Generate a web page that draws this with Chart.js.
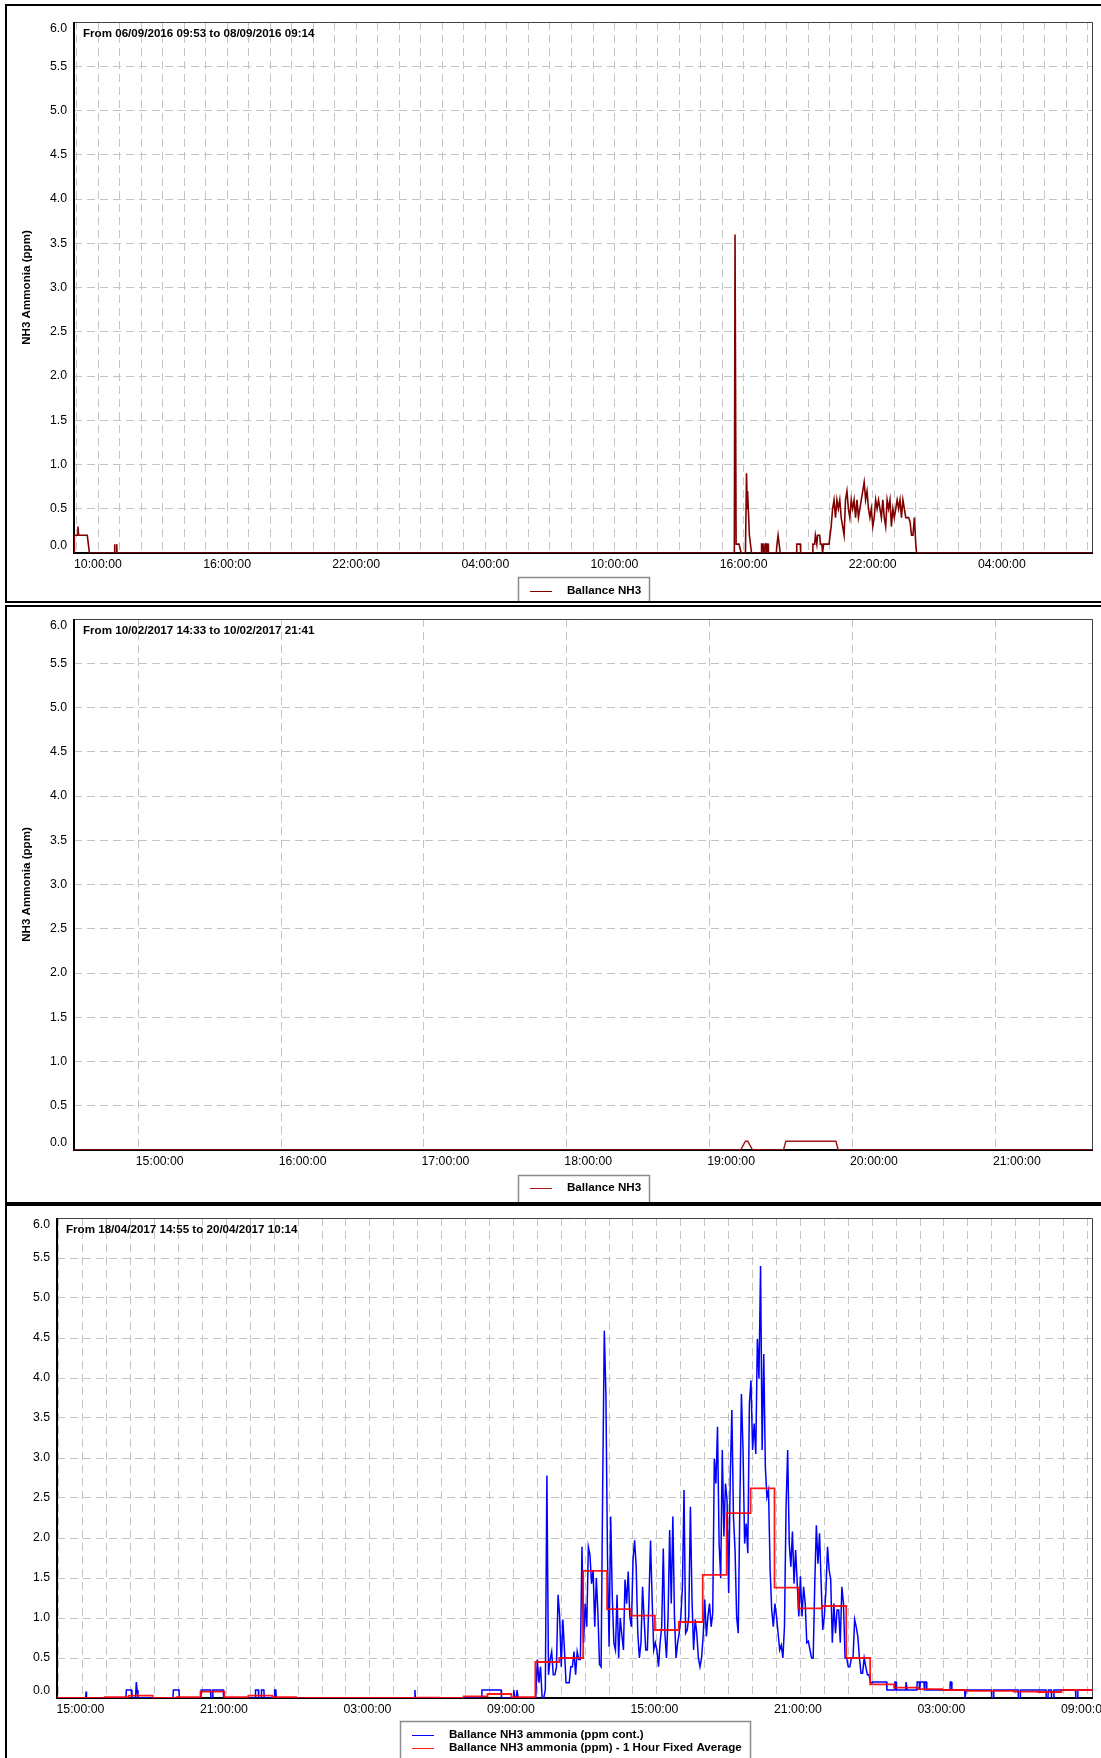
<!DOCTYPE html>
<html>
<head>
<meta charset="utf-8">
<script src="https://cdn.jsdelivr.net/npm/chart.js@4.4.1/dist/chart.umd.min.js"></script>
<style>
  body { margin: 0; background: #fff; }
  #page { position: relative; width: 1101px; height: 1758px; overflow: hidden; }
  #page canvas { position: absolute; left: 0; }
  .box { position: absolute; border: 2px solid #000; box-sizing: border-box; pointer-events: none; }
</style>
</head>
<body>
<div id="page">
  <canvas id="c1" width="1101" height="595" style="top:6px"></canvas>
  <canvas id="c2" width="1101" height="595" style="top:607px"></canvas>
  <canvas id="c3" width="1101" height="552" style="top:1206px"></canvas>
  <div class="box" style="left:5px;top:4px;width:1110px;height:599px"></div>
  <div class="box" style="left:5px;top:605px;width:1110px;height:599px"></div>
  <div class="box" style="left:5px;top:1204px;width:1110px;height:600px"></div>
</div>
<script>
// ============================ data ==============================
const yTickVals = [0, 0.5, 1, 1.5, 2, 2.5, 3, 3.5, 4, 4.5, 5, 5.5, 6];
const yTickText = ['0.0', '0.5', '1.0', '1.5', '2.0', '2.5', '3.0', '3.5', '4.0', '4.5', '5.0', '5.5', '6.0'];
const yTitle = 'NH3 Ammonia (ppm)';

// panel 1 : 06/09/2016 -> 08/09/2016
const p1Title = 'From 06/09/2016 09:53 to 08/09/2016 09:14';
const p1Day0 = 6;
const p1Range = ['06 09:53', '08 09:14'];
const p1TickHours = [10, 16, 22, 28, 34, 40, 46, 52];
const p1TickLabels = ['10:00:00', '16:00:00', '22:00:00', '04:00:00', '10:00:00', '16:00:00', '22:00:00', '04:00:00'];
const p1Legend = ['Ballance NH3'];
const p1TimesA = ['06 09:53', '06 09:54', '06 10:02', '06 10:04', '06 10:06', '06 10:30', '06 10:33', '06 10:36',
  '06 11:45', '06 11:46', '06 11:47', '06 11:51', '06 11:52', '06 11:53',
  '07 16:34', '07 16:36', '07 16:39', '07 16:47', '07 16:53',
  '07 17:05', '07 17:08', '07 17:10', '07 17:11', '07 17:13', '07 17:16', '07 17:19', '07 17:22',
  '07 17:49', '07 17:50', '07 17:54', '07 17:55', '07 17:59', '07 18:00', '07 18:03', '07 18:04', '07 18:05', '07 18:08', '07 18:09',
  '07 18:31', '07 18:33', '07 18:36', '07 18:39', '07 18:42',
  '07 19:27', '07 19:28', '07 19:38', '07 19:39',
  '07 20:11', '07 20:13', '07 20:18', '07 20:20', '07 20:24', '07 20:26', '07 20:32', '07 20:34', '07 20:38', '07 20:40', '07 20:43', '07 20:58'];
const p1ValsA = [0, 0.2, 0.2, 0.3, 0.2, 0.2, 0.1, 0,
  0, 0.1, 0, 0, 0.1, 0,
  0, 3.6, 0.1, 0.1, 0,
  0, 0.9, 0.5, 0.7, 0.5, 0.2, 0.1, 0,
  0, 0.1, 0.1, 0, 0, 0.1, 0.1, 0, 0.1, 0.1, 0,
  0, 0.1, 0.2, 0.1, 0,
  0, 0.1, 0.1, 0,
  0, 0.1, 0.1, 0.2, 0.1, 0.2, 0.2, 0.1, 0.1, 0, 0.1, 0.1];
const p1HumpStart = '07 21:00';   // logger samples, every 4 minutes
const p1HumpVals = [0.1, 0.3, 0.5, 0.6, 0.4, 0.6, 0.5, 0.6, 0.4, 0.3,
  0.2, 0.6, 0.7, 0.5, 0.4, 0.6, 0.5, 0.6, 0.4, 0.6,
  0.4, 0.5, 0.6, 0.7, 0.8, 0.6, 0.7, 0.5, 0.4, 0.5,
  0.3, 0.4, 0.6, 0.5, 0.6, 0.5, 0.4, 0.6, 0.4, 0.3,
  0.6, 0.5, 0.6, 0.3, 0.5, 0.4, 0.5, 0.6, 0.5, 0.6,
  0.4, 0.6, 0.5, 0.4, 0.4, 0.4, 0.35, 0.2, 0.2, 0.4, 0.1];
const p1TimesB = ['08 01:02', '08 09:14'];
const p1ValsB = [0, 0];

// panel 2 : 10/02/2017
const p2Title = 'From 10/02/2017 14:33 to 10/02/2017 21:41';
const p2Day0 = 10;
const p2Range = ['10 14:33', '10 21:41'];
const p2TickHours = [15, 16, 17, 18, 19, 20, 21];
const p2TickLabels = ['15:00:00', '16:00:00', '17:00:00', '18:00:00', '19:00:00', '20:00:00', '21:00:00'];
const p2Legend = ['Ballance NH3'];
const p2Times = ['10 14:33', '10 19:13', '10 19:15', '10 19:16', '10 19:18', '10 19:31', '10 19:32', '10 19:53', '10 19:54', '10 21:41'];
const p2Vals = [0, 0, 0.1, 0.1, 0, 0, 0.1, 0.1, 0, 0];

// panel 3 : 18/04/2017 -> 20/04/2017
const p3Title = 'From 18/04/2017 14:55 to 20/04/2017 10:14';
const p3Day0 = 18;
const p3Range = ['18 14:55', '20 10:14'];
const p3TickHours = [15, 21, 27, 33, 39, 45, 51, 57];
const p3TickLabels = ['15:00:00', '21:00:00', '03:00:00', '09:00:00', '15:00:00', '21:00:00', '03:00:00', '09:00:00'];
const p3Legend = ['Ballance NH3 ammonia (ppm cont.)', 'Ballance NH3 ammonia (ppm) - 1 Hour Fixed Average'];
const p3BlueTimesA = ['18 14:55', '18 16:07', '18 16:08', '18 16:09',
  '18 17:48', '18 17:49', '18 18:02', '18 18:03', '18 18:12', '18 18:14', '18 18:16', '18 18:18',
  '18 19:46', '18 19:47', '18 20:01', '18 20:02',
  '18 20:56', '18 20:57', '18 21:20', '18 21:21', '18 21:25', '18 21:26', '18 21:52', '18 21:53',
  '18 23:12', '18 23:13', '18 23:20', '18 23:21', '18 23:27', '18 23:28', '18 23:34', '18 23:35',
  '19 00:00', '19 00:01', '19 00:04', '19 00:05',
  '19 05:52', '19 05:53', '19 05:54',
  '19 08:40', '19 08:41', '19 09:29', '19 09:30',
  '19 10:00', '19 10:01', '19 10:04', '19 10:08', '19 10:09', '19 10:12'];
const p3BlueValsA = [0, 0, 0.08, 0,
  0, 0.1, 0.1, 0, 0, 0.2, 0.1, 0,
  0, 0.1, 0.1, 0,
  0, 0.1, 0.1, 0, 0, 0.1, 0.1, 0,
  0, 0.1, 0.1, 0, 0, 0.1, 0.1, 0,
  0, 0.1, 0.1, 0,
  0, 0.1, 0,
  0, 0.1, 0.1, 0,
  0, 0.1, 0, 0, 0.1, 0];
const p3BlueDenseStart = '19 10:52';  // logger samples, every 4 minutes
const p3BlueDense = [0, 0, 0.48, 0.19, 0.39, 0, 0, 0.1, 2.78, 0.29,
  0.48, 0.58, 0.29, 0.29, 0.39, 1.29, 1.02, 0.39, 0.98, 0.6,
  0.19, 0.19, 0.19, 0.39, 0.39, 0.58, 0.29, 0.58, 0.48, 0.48,
  1.89, 0.69, 1.18, 0.89, 1.89, 1.79, 1.43, 1.6, 0.89, 1.5,
  1.06, 0.42, 0.39, 2.68, 4.59, 3.8, 1.77, 0.64, 2.27, 1.27,
  0.69, 0.6, 1.29, 0.5, 1.0, 0.79, 0.6, 1.48, 1.18, 1.58,
  1.02, 0.89, 1.72, 1.97, 1.64, 0.81, 0.5, 0.69, 1.39, 0.98,
  0.6, 0.6, 1.23, 1.97, 1.23, 0.6, 0.69, 0.6, 0.39, 0.69,
  0.89, 1.87, 0.81, 0.5, 1.02, 2.1, 1.18, 2.27, 1.02, 0.5,
  0.69, 0.81, 1.02, 1.39, 2.6, 0.81, 0.85, 1.02, 2.39, 1.23,
  0.6, 0.98, 0.81, 0.5, 0.39, 0.5, 0.77, 1.23, 0.77, 1.02,
  1.18, 0.89, 1.06, 2.99, 2.68, 3.39, 1.93, 1.5, 3.1, 2.02,
  2.68, 2.47, 1.31, 2.76, 3.6, 2.27, 1.85, 1.02, 0.81, 2.39,
  3.8, 3.1, 1.93, 2.18, 1.81, 3.68, 3.97, 3.1, 3.43, 3.05,
  4.49, 3.99, 5.4, 3.1, 4.3, 2.89, 2.51, 2.6, 1.6, 1.1,
  0.89, 1.18, 1.02, 0.81, 0.6, 0.66, 0.5, 0.89, 2.39, 3.1,
  1.93, 1.64, 2.08, 1.43, 1.85, 1.43, 1.02, 1.52, 1.02, 1.39,
  1.18, 0.69, 0.71, 0.6, 0.5, 0.5, 1.43, 2.16, 1.68, 2.06,
  1.43, 0.85, 1.02, 1.35, 1.89, 1.6, 1.48, 0.69, 1.18, 0.81,
  1.1, 1.1, 0.69, 1.39, 1.18, 0.5, 0.5, 0.39, 0.39, 0.5,
  0.5, 0.98, 0.89, 0.77, 0.5, 0.31, 0.31, 0.5, 0.39, 0.29,
  0.29, 0.19, 0.19];
const p3BlueTimesB = ['20 01:01', '20 01:36', '20 01:37', '20 01:56', '20 01:57', '20 02:00', '20 02:01', '20 02:24', '20 02:25',
  '20 02:27', '20 02:28', '20 02:52', '20 02:53', '20 02:58', '20 02:59', '20 03:01', '20 03:10', '20 03:11', '20 03:12',
  '20 03:16', '20 03:17', '20 04:15', '20 04:16', '20 04:19', '20 04:20', '20 04:52', '20 04:53', '20 04:55', '20 04:56',
  '20 05:59', '20 06:00', '20 06:04', '20 06:05', '20 07:06', '20 07:07', '20 07:11', '20 07:12', '20 08:16', '20 08:17',
  '20 08:21', '20 08:22', '20 08:29', '20 08:30', '20 08:35', '20 08:36', '20 09:30', '20 09:31', '20 09:35', '20 09:36', '20 10:14'];
const p3BlueValsB = [0.2, 0.2, 0.1, 0.1, 0.2, 0.2, 0.1, 0.1, 0.2,
  0.2, 0.1, 0.1, 0.2, 0.2, 0.1, 0.2, 0.2, 0.1, 0.2,
  0.2, 0.1, 0.1, 0.2, 0.2, 0.1, 0.1, 0, 0, 0.1,
  0.1, 0, 0, 0.1, 0.1, 0, 0, 0.1, 0.1, 0,
  0, 0.1, 0.1, 0, 0, 0.1, 0.1, 0, 0, 0.1, 0.1];
const p3RedTimes = ['18 14:55', '18 15:55', '18 16:55', '18 17:55', '18 18:55', '18 19:55', '18 20:55', '18 21:55', '18 22:55', '18 23:55',
  '19 00:55', '19 01:55', '19 02:55', '19 03:55', '19 04:55', '19 05:55', '19 06:55', '19 07:55', '19 08:55', '19 09:55',
  '19 10:55', '19 11:55', '19 12:55', '19 13:55', '19 14:55', '19 15:55', '19 16:55', '19 17:55', '19 18:55', '19 19:55',
  '19 20:55', '19 21:55', '19 22:55', '19 23:55', '20 00:55', '20 01:55', '20 02:55', '20 03:55', '20 04:55', '20 05:55',
  '20 06:55', '20 07:55', '20 08:55', '20 09:55', '20 10:14'];
const p3RedVals = [0, 0, 0.01, 0.03, 0, 0.01, 0.08, 0.01, 0.03, 0.01,
  0, 0, 0, 0, 0, 0.005, 0, 0.02, 0.05, 0.01,
  0.45, 0.5, 1.59, 1.11, 1.03, 0.85, 0.95, 1.54, 2.31, 2.62,
  1.38, 1.12, 1.15, 0.5, 0.17, 0.13, 0.11, 0.1, 0.09, 0.09,
  0.08, 0.075, 0.1, 0.1, 0.1];

// ============================ helpers ==============================
const FONT = '"Liberation Sans", Arial, sans-serif';
const BOLD = 'bold 11.6px ' + FONT;
Chart.defaults.font.family = FONT;
Chart.defaults.color = '#000';

function toHours(stamp, day0) {
  const [d, hm] = stamp.split(' ');
  const [h, m] = hm.split(':').map(Number);
  return (Number(d) - day0) * 24 + h + m / 60;
}
function points(times, vals, day0) {
  return times.map((t, i) => ({x: toHours(t, day0), y: vals[i]}));
}
function samples(start, vals, day0) {
  const t0 = toHours(start, day0);
  return vals.map((v, i) => ({x: t0 + i * 4 / 60, y: v}));
}

// ============================ plugin ==============================
const panelPlugin = {
  id: 'panel',
  beforeDatasetsDraw(chart, args, o) {
    const ctx = chart.ctx, a = chart.chartArea, ys = chart.scales.y;
    ctx.save();
    // plot frame
    ctx.strokeStyle = '#404040';
    ctx.lineWidth = 1;
    ctx.beginPath();
    ctx.moveTo(a.left, a.top + 0.5); ctx.lineTo(a.right - 0.5, a.top + 0.5); ctx.lineTo(a.right - 0.5, a.bottom);
    ctx.stroke();
    ctx.strokeStyle = '#000';
    ctx.lineWidth = 2;
    ctx.beginPath();
    ctx.moveTo(a.left, a.top); ctx.lineTo(a.left, a.bottom); ctx.lineTo(a.right, a.bottom);
    ctx.stroke();
    // y tick labels, kept inside the plot height
    ctx.fillStyle = '#000';
    ctx.font = '12.3px ' + FONT;
    ctx.textAlign = 'right';
    ctx.textBaseline = 'middle';
    yTickVals.forEach((v, i) => {
      const y = Math.min(Math.max(ys.getPixelForValue(v), a.top + 7), a.bottom - 7);
      ctx.fillText(yTickText[i], a.left - 7, y);
    });
    if (o.yTitle) {
      ctx.font = BOLD;
      ctx.textAlign = 'center';
      ctx.translate(27, (a.top + a.bottom) / 2);
      ctx.rotate(-Math.PI / 2);
      ctx.fillText(o.yTitle, 0, 0);
    }
    ctx.restore();
  },
  afterDatasetsDraw(chart, args, o) {
    const ctx = chart.ctx, a = chart.chartArea;
    ctx.save();
    ctx.font = BOLD;
    ctx.fillStyle = '#000';
    ctx.textBaseline = 'middle';
    ctx.textAlign = 'left';
    ctx.fillText(o.title, a.left + 9, a.top + 11.5);
    // legend box
    const tw = Math.max(...o.legend.map(t => ctx.measureText(t).width));
    const w = Math.round(12 + 22 + 15 + tw + 8);
    const x0 = Math.round((a.left + a.right) / 2 - w / 2);
    ctx.fillStyle = '#fff';
    ctx.fillRect(x0, o.boxTop, w, 100);
    ctx.strokeStyle = '#8c8c8c';
    ctx.lineWidth = 1.5;
    ctx.strokeRect(x0 + 0.5, o.boxTop + 0.5, w, 100);
    o.legend.forEach((t, i) => {
      const y = o.line0 + i * 13;
      const ds = chart.data.datasets[o.order[i]];
      ctx.strokeStyle = ds.borderColor;
      ctx.lineWidth = 1;
      ctx.beginPath();
      ctx.moveTo(x0 + 12, Math.round(y) + 0.5); ctx.lineTo(x0 + 34, Math.round(y) + 0.5);
      ctx.stroke();
      ctx.fillStyle = '#000';
      ctx.fillText(t, x0 + 49, y);
    });
    ctx.restore();
  }
};

// ============================ charts ==============================
function makeChart(id, p) {
  const labelAt = {};
  p.tickHours.forEach((h, i) => { labelAt[h] = p.tickLabels[i]; });
  const min = toHours(p.range[0], p.day0), max = toHours(p.range[1], p.day0);
  const grid = {color: '#c4c4c4', lineWidth: 1, drawTicks: false};
  return new Chart(document.getElementById(id), {
    type: 'line',
    data: {datasets: p.datasets},
    options: {
      responsive: false,
      animation: false,
      devicePixelRatio: 1,
      layout: {padding: {left: p.left, right: 8, top: p.top, bottom: 0}},
      elements: {point: {radius: 0}, line: {tension: 0, borderJoinStyle: 'miter'}},
      plugins: {
        legend: {display: false},
        tooltip: {enabled: false},
        panel: {title: p.title, yTitle: p.yTitle, legend: p.legend, order: p.legendOrder, boxTop: p.boxTop, line0: p.line0}
      },
      scales: {
        x: {
          type: 'linear', min: min, max: max,
          afterBuildTicks: s => {
            const t = [];
            for (let h = Math.ceil(min); h <= max; h++) t.push({value: h});
            s.ticks = t;
          },
          afterFit: s => { s.height = p.axisH; },
          ticks: {
            autoSkip: false, maxRotation: 0, align: 'start', padding: 4, labelOffset: -2.5,
            font: {size: 12.3}, color: '#000',
            callback: v => labelAt[v] || ''
          },
          grid: grid,
          border: {display: false, dash: [8, 5]}
        },
        y: {
          min: 0, max: 6,
          afterFit: s => { s.width = 0; },
          ticks: {display: false, stepSize: 0.5},
          grid: grid,
          border: {display: false, dash: [8, 5]}
        }
      }
    },
    plugins: [panelPlugin]
  });
}

document.addEventListener('DOMContentLoaded', function () {
  makeChart('c1', {
    title: p1Title, yTitle: yTitle, range: p1Range, day0: p1Day0,
    tickHours: p1TickHours, tickLabels: p1TickLabels,
    left: 74, top: 16, axisH: 48, boxTop: 571, line0: 585,
    legend: p1Legend, legendOrder: [0],
    datasets: [{
      label: p1Legend[0],
      data: points(p1TimesA, p1ValsA, p1Day0).concat(samples(p1HumpStart, p1HumpVals, p1Day0), points(p1TimesB, p1ValsB, p1Day0)),
      borderColor: '#800000', borderWidth: 1.6, fill: false
    }]
  });

  makeChart('c2', {
    title: p2Title, yTitle: yTitle, range: p2Range, day0: p2Day0,
    tickHours: p2TickHours, tickLabels: p2TickLabels,
    left: 74, top: 12, axisH: 52, boxTop: 568, line0: 580.5,
    legend: p2Legend, legendOrder: [0],
    datasets: [{
      label: p2Legend[0],
      data: points(p2Times, p2Vals, p2Day0),
      borderColor: '#a01818', borderWidth: 1.5, fill: false
    }]
  });

  makeChart('c3', {
    title: p3Title, yTitle: null, range: p3Range, day0: p3Day0,
    tickHours: p3TickHours, tickLabels: p3TickLabels,
    left: 57, top: 12, axisH: 60, boxTop: 515, line0: 528.5,
    legend: p3Legend, legendOrder: [0, 1],
    datasets: [{
      label: p3Legend[0],
      data: points(p3BlueTimesA, p3BlueValsA, p3Day0).concat(samples(p3BlueDenseStart, p3BlueDense, p3Day0), points(p3BlueTimesB, p3BlueValsB, p3Day0)),
      borderColor: '#0000ff', borderWidth: 1.5, fill: false, order: 2
    }, {
      label: p3Legend[1],
      data: points(p3RedTimes, p3RedVals, p3Day0),
      borderColor: 'rgba(255,0,0,0.9)', borderWidth: 1.8, fill: false, stepped: true, order: 1
    }]
  });
});
</script>
</body>
</html>
